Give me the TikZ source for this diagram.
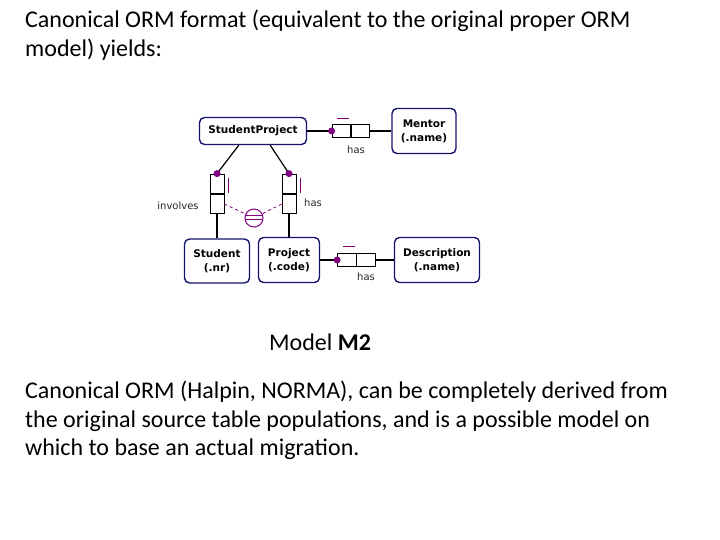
\documentclass[tikz,border=0pt]{standalone}
\usepackage{fontspec}
\setmainfont{Carlito}
\newfontfamily\ormfont{DejaVu Sans}
\usetikzlibrary{positioning, calc}
\definecolor{ormblue}{RGB}{20,20,110}
\definecolor{ormpurple}{RGB}{128,0,128}
\tikzset{
  entity/.style = {draw=ormblue, line width=1.4pt, rounded corners=5pt, align=center,
    font=\ormfont\bfseries\fontsize{10.5}{14}\selectfont, inner sep=0pt},
  role/.style = {draw, line width=0.8pt, minimum width=18.5pt, minimum height=13pt, inner sep=0pt},
  vrole/.style = {draw, line width=0.8pt, minimum width=14pt, minimum height=19.5pt, inner sep=0pt},
  mand/.style = {circle, fill=ormpurple, inner sep=0pt, minimum size=7pt},
  lbl/.style = {font=\ormfont\fontsize{10}{12}\selectfont, text=black!85},
  uniq/.style = {draw=ormpurple, line width=1pt},
  para/.style = {anchor=north west, align=left, font=\fontsize{24}{28.5}\selectfont, inner sep=0pt}
}
\begin{document}
\begin{tikzpicture}[x=1pt, y=-1pt]
  \useasboundingbox (0,0) rectangle (720,540);
  % text
  \node[para] (title) at (25,10) {Canonical ORM format (equivalent to the original proper ORM\\model) yields:};
  \node[anchor=west, font=\fontsize{24}{28}\selectfont, inner sep=0pt] (caption) at (269,342) {Model \textbf{M2}};
  \node[para] (body) at (25,381) {Canonical ORM (Halpin, NORMA), can be completely derived from\\the original source table populations, and is a possible model on\\which to base an actual migration.};
  % entities
  \node[entity, minimum width=107pt, minimum height=27pt] (sp) at (253,131) {StudentProject};
  \node[entity, minimum width=64pt, minimum height=45pt] (mentor) at (424,131) {Mentor\\(.name)};
  \node[entity, minimum width=65pt, minimum height=44pt] (student) at (217,261) {Student\\(.nr)};
  \node[entity, minimum width=61pt, minimum height=45pt] (project) at (289,260) {Project\\(.code)};
  \node[entity, minimum width=85pt, minimum height=45pt] (descr) at (437,260) {Description\\(.name)};
  % fact types
  \node[role] (m1) at (341.25,131) {};
  \node[role, right=0pt of m1] (m2) {};
  \node[role] (d1) at (346.75,260) {};
  \node[role, right=0pt of d1] (d2) {};
  \node[vrole] (i1) at (217,183.75) {};
  \node[vrole, below=0pt of i1] (i2) {};
  \node[vrole] (h1) at (289,183.75) {};
  \node[vrole, below=0pt of h1] (h2) {};
  % connectors
  \draw[line width=1.2pt] (sp) -- (m1);
  \draw[line width=1.2pt] (m2) -- (mentor);
  \draw[line width=1.2pt] (project) -- (d1);
  \draw[line width=1.2pt] (d2) -- (descr);
  \draw[line width=1.2pt] (sp.south west) ++(40,0) coordinate (spl) -- (i1.north);
  \draw[line width=1.2pt] (sp.south east) ++(-37,0) coordinate (spr) -- (h1.north);
  \draw[line width=1.2pt] (i2) -- (student);
  \draw[line width=1.2pt] (h2) -- (project);
  % mandatory dots
  \node[mand] at (m1.west) {};
  \node[mand] at (d1.west) {};
  \node[mand] at (i1.north) {};
  \node[mand] at (h1.north) {};
  % uniqueness bars
  \draw[uniq] ($(m1.north)+(-4,-6)$) -- ($(m1.north)+(8,-6)$);
  \draw[uniq] ($(d1.north)+(-4,-7)$) -- ($(d1.north)+(8,-7)$);
  \draw[uniq] ($(i1.east)+(4,-6)$) -- ($(i1.east)+(4,9)$);
  \draw[uniq] ($(h1.east)+(4,-6)$) -- ($(h1.east)+(4,9)$);
  % external uniqueness
  \node[circle, uniq, minimum size=18pt, inner sep=0pt] (ext) at (254,218) {};
  \draw[uniq] ($(ext.center)+(-8,-2)$) -- ($(ext.center)+(8,-2)$);
  \draw[uniq] ($(ext.center)+(-8,2)$) -- ($(ext.center)+(8,2)$);
  \draw[uniq, dashed, line width=0.8pt] (i2.east) -- (ext);
  \draw[uniq, dashed, line width=0.8pt] (h2.west) -- (ext);
  % labels
  \node[lbl] (hasm) at (356,150) {has};
  \node[lbl] (hasd) at (366,277) {has};
  \node[lbl] (inv) at (178,206) {involves};
  \node[lbl] (hasp) at (313,203) {has};
\end{tikzpicture}
\end{document}
